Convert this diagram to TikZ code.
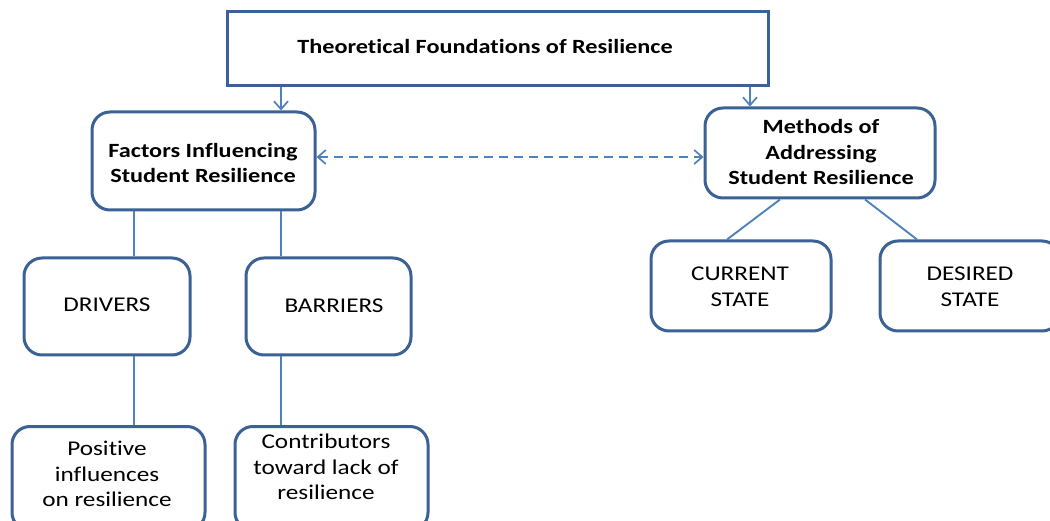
\documentclass[tikz,border=0pt]{standalone}
\usepackage{fontspec}
\setmainfont{Carlito}[FakeStretch=1.2, Ligatures={NoCommon}]
\usetikzlibrary{arrows.meta}
\definecolor{boxline}{HTML}{3B6195}
\definecolor{conn}{HTML}{4F81BD}
\tikzset{
  plainbox/.style={draw=boxline, line width=3pt, fill=white, inner sep=0pt},
  roundbox/.style={plainbox, rounded corners=18pt},
  txt/.style={align=center, font=\fontsize{21}{25.5}\selectfont, inner sep=0pt},
  btxt/.style={txt, font=\fontsize{20.2}{25.5}\selectfont\bfseries},
  link/.style={draw=conn, line width=1.9pt},
  barb/.style={},
  arr/.style={link, -{Straight Barb[length=8pt,width=14pt,line width=1.7pt]}},
}
\begin{document}
\begin{tikzpicture}[x=1pt,y=-1pt]
\useasboundingbox (0,0) rectangle (1050,521);
\clip (0,0) rectangle (1050,521);
\fill[white] (0,0) rectangle (1050,521);
% boxes
\node[plainbox, minimum width=541, minimum height=74] (top) at (497.5,48.5) {};
\node[btxt] (toptxt) at (485,46) {Theoretical Foundations of Resilience};
\node[roundbox, minimum width=223, minimum height=98] (factors) at (203.5,161) {};
\node[btxt] (factorstxt) at (203,163) {Factors Influencing\\Student Resilience};
\node[roundbox, minimum width=230, minimum height=90] (methods) at (820,153) {};
\node[btxt] (methodstxt) at (821,152) {Methods of\\Addressing\\Student Resilience};
\node[roundbox, minimum width=166, minimum height=97] (drivers) at (107,306.5) {};
\node[txt] (driverstxt) at (107,305) {DRIVERS};
\node[roundbox, minimum width=165, minimum height=97] (barriers) at (328.5,306.5) {};
\node[txt] (barrierstxt) at (334,306) {BARRIERS};
\node[roundbox, minimum width=193, minimum height=104, anchor=north] (positive) at (108.5,425) {};
\node[txt] (positivetxt) at (107,474) {Positive\\influences\\on resilience};
\node[roundbox, minimum width=193, minimum height=104, anchor=north] (contrib) at (331.5,425) {};
\node[txt] (contribtxt) at (326,467) {Contributors\\toward lack of\\resilience};
\node[roundbox, minimum width=180, minimum height=90] (current) at (741,286) {};
\node[txt] (currenttxt) at (740,287) {CURRENT\\STATE};
\node[roundbox, minimum width=180, minimum height=90] (desired) at (970,286) {};
\node[txt] (desiredtxt) at (970,287) {DESIRED\\STATE};
% connectors
\draw[arr] (top.south -| 281,0) -- (factors.north -| 281,0);
\draw[arr] (top.south -| 750,0) -- (methods.north -| 750,0);
\draw[link, dashed, dash pattern=on 9pt off 6pt, {Straight Barb[length=8pt,width=14pt,line width=1.7pt]}-{Straight Barb[length=8pt,width=14pt,line width=1.7pt]}] (factors.east |- 0,157) -- (methods.west |- 0,157);
\draw[link] (factors.south -| 134,0) -- (drivers.north -| 134,0);
\draw[link] (factors.south -| 281,0) -- (barriers.north -| 281,0);
\draw[link] (drivers.south -| 134,0) -- (positive.north -| 134,0);
\draw[link] (barriers.south -| 281,0) -- (contrib.north -| 281,0);
\draw[link] (methods.south -| 780,0) -- (current.north -| 727,0);
\draw[link] (methods.south -| 865,0) -- (desired.north -| 917,0);
\end{tikzpicture}
\end{document}
